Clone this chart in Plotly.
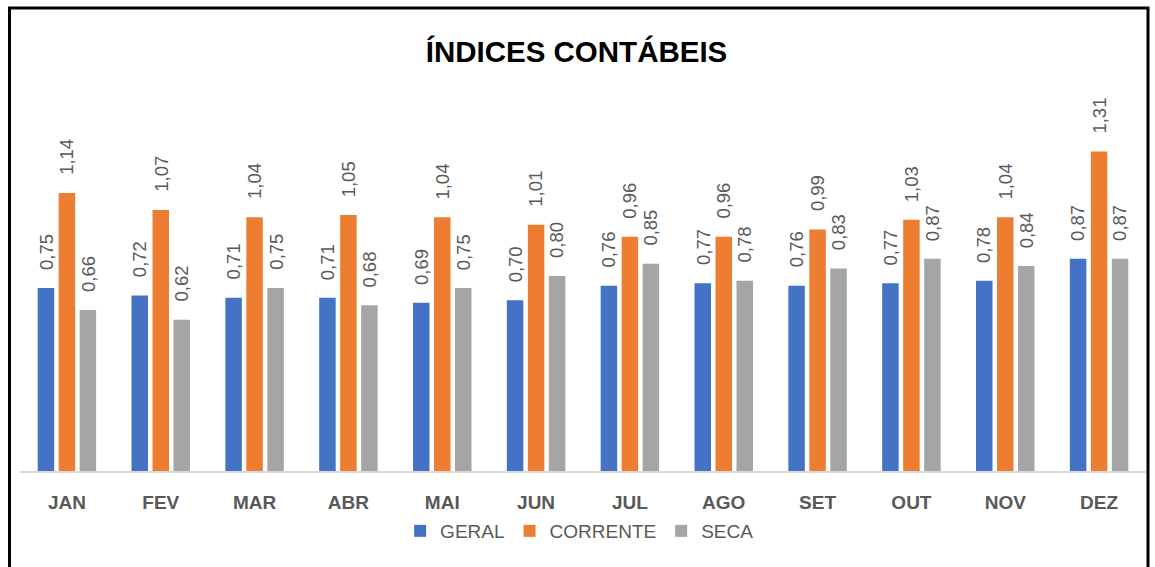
import plotly.graph_objects as go

months = ["JAN", "FEV", "MAR", "ABR", "MAI", "JUN", "JUL", "AGO", "SET", "OUT", "NOV", "DEZ"]
geral = [0.75, 0.72, 0.71, 0.71, 0.69, 0.70, 0.76, 0.77, 0.76, 0.77, 0.78, 0.87]
corrente = [1.14, 1.07, 1.04, 1.05, 1.04, 1.01, 0.96, 0.96, 0.99, 1.03, 1.04, 1.31]
seca = [0.66, 0.62, 0.75, 0.68, 0.75, 0.80, 0.85, 0.78, 0.83, 0.87, 0.84, 0.87]

series = [
    ("GERAL", geral, "#4472C4", -21),
    ("CORRENTE", corrente, "#ED7D31", 0),
    ("SECA", seca, "#A5A5A5", 21),
]

FONT = "Liberation Sans, Arial, sans-serif"
TXT = "#595959"

fig = go.Figure()
annotations = []
for name, vals, color, shift in series:
    fig.add_trace(go.Bar(
        x=months, y=vals, name=name,
        marker=dict(color=color, line=dict(width=0)),
    ))
    for m, v in zip(months, vals):
        annotations.append(dict(
            x=m, y=v, xref="x", yref="y",
            text=f"{v:.2f}".replace(".", ","),
            showarrow=False, textangle=-90,
            xanchor="center", yanchor="bottom",
            xshift=shift, yshift=16,
            font=dict(family=FONT, size=18.5, color=TXT),
        ))

# outer black frame
fig.add_shape(type="rect", xref="paper", yref="paper",
              x0=(9.5 - 20) / 1126, x1=(1148 - 20) / 1126,
              y0=(471 - 575) / 371, y1=(471 - 8) / 371,
              line=dict(color="black", width=3), fillcolor="rgba(0,0,0,0)",
              layer="above")

fig.update_layout(
    width=1155, height=567,
    margin=dict(l=20, r=9, t=100, b=96),
    paper_bgcolor="white", plot_bgcolor="white",
    barmode="group", bargap=0.329, bargroupgap=0.214,
    title=dict(text="<b>ÍNDICES CONTÁBEIS</b>", x=576.5 / 1155, xanchor="center",
               y=1 - 52 / 567, yanchor="middle", yref="container",
               font=dict(family=FONT, size=29.5, color="black")),
    annotations=annotations,
    legend=dict(orientation="h", x=0.497, xanchor="center", y=(471 - 531) / 371,
                yanchor="middle", font=dict(family=FONT, size=19, color=TXT),
                itemwidth=30, bgcolor="rgba(0,0,0,0)"),
    xaxis=dict(showline=True, linecolor="#D9D9D9", linewidth=1.5, showgrid=False,
               ticks="", ticklabelstandoff=13,
               tickfont=dict(family=FONT, size=19, color=TXT, weight="bold"),
               fixedrange=True),
    yaxis=dict(range=[0, 371 / 243.9], visible=False, showgrid=False, fixedrange=True),
    showlegend=True,
)

fig.write_html("out.html", config={"displayModeBar": False},
               post_script="document.body.style.margin='0';document.body.style.overflow='hidden';")
